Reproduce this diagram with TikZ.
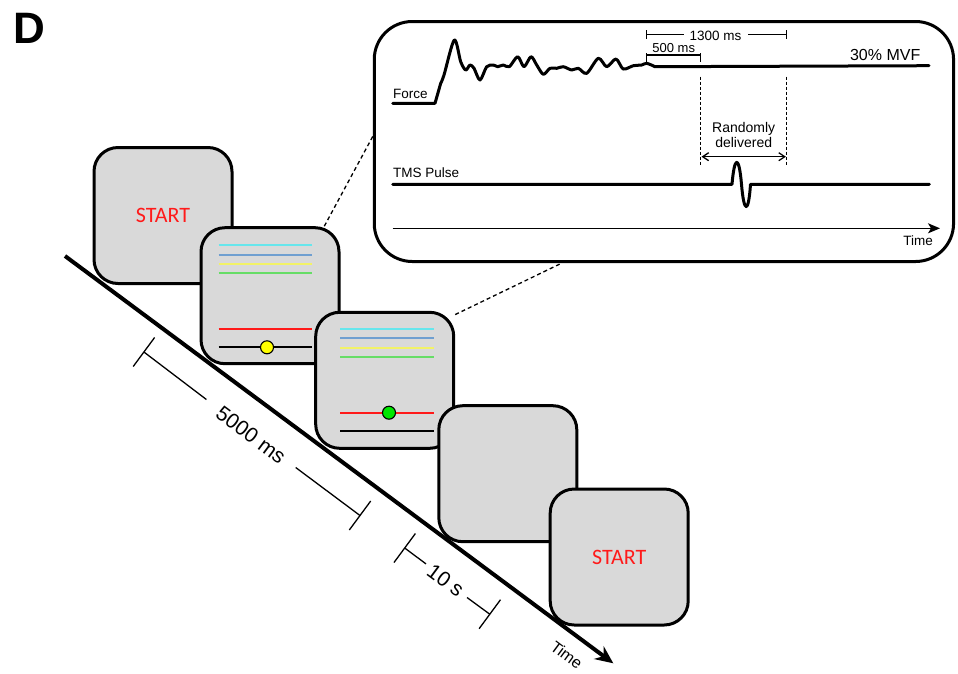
\documentclass[tikz,border=0pt]{standalone}
\usepackage{fontspec}
\setmainfont{Liberation Sans}
\newfontfamily\startfont{Carlito}
\usetikzlibrary{arrows.meta,calc}
\definecolor{boxgray}{HTML}{D9D9D9}
\definecolor{lcyan}{HTML}{66E6EC}
\definecolor{lblue}{HTML}{6F9FD0}
\definecolor{lyellow}{HTML}{F2F266}
\definecolor{lgreen}{HTML}{66DD66}
\definecolor{lred}{HTML}{FF1A1A}
\definecolor{dotyellow}{HTML}{FFFF00}
\definecolor{dotgreen}{HTML}{00E600}
\begin{document}
\begin{tikzpicture}[x=1pt,y=-1pt,
  screen/.style={draw=black, line width=3pt, fill=boxgray, rounded corners=24pt,
    minimum width=138pt, minimum height=136pt, inner sep=0pt},
  starttext/.style={text=lred, font=\startfont\fontsize{22}{25}\selectfont},
  cue/.style={line width=2.3pt},
  dot/.style={circle, draw=black, line width=1.1pt, minimum size=13pt, inner sep=0pt},
  bracket/.style={line width=1.3pt},
  biglabel/.style={rotate=-36.6, inner sep=0pt, font=\fontsize{21}{23}\selectfont},
  conn/.style={line width=1.3pt, dash pattern=on 4pt off 3pt},
  trace/.style={line width=3pt, line join=round, line cap=round},
  thinline/.style={line width=1.3pt},
  vdash/.style={line width=1.2pt, dash pattern=on 3pt off 2pt},
  small/.style={inner sep=0pt, font=\fontsize{13.5}{16}\selectfont}
]
\useasboundingbox (0,0) rectangle (958,673);

% panel letter
\node[anchor=base west, inner sep=0pt, font=\bfseries\fontsize{44}{48}\selectfont] (lblD) at (13.5,43.3) {D};

% screens
\node[screen, starttext] (b1) at (163,215.5) {START};

\node[screen] (b2) at (270,295.7) {};
\draw[cue, lcyan]   (218.7,245.3) -- (312.3,245.3);
\draw[cue, lblue]   (218.7,254.7) -- (312.3,254.7);
\draw[cue, lyellow] (218.7,264.0) -- (312.3,264.0);
\draw[cue, lgreen]  (218.7,273.0) -- (312.3,273.0);
\draw[cue, lred]    (218.7,328.7) -- (312.3,328.7);
\draw[cue, black]   (218.7,347.3) -- (312.3,347.3);
\node[dot, fill=dotyellow] (d2) at (267,347.3) {};

\node[screen] (b3) at (384.7,380.3) {};
\draw[cue, lcyan]   (340,328.7) -- (434,328.7);
\draw[cue, lblue]   (340,338.3) -- (434,338.3);
\draw[cue, lyellow] (340,347.7) -- (434,347.7);
\draw[cue, lgreen]  (340,357.0) -- (434,357.0);
\draw[cue, lred]    (340,412.7) -- (434,412.7);
\draw[cue, black]   (340,431.0) -- (434,431.0);
\node[dot, fill=dotgreen] (d3) at (389,412.7) {};

\node[screen] (b4) at (507.8,473.7) {};
\node[screen, starttext] (b5) at (619.2,557) {START};

% main time line
\coordinate (t0) at (65,256);
\coordinate (t1) at (613.3,663.3);
\draw[line width=4pt, -{Stealth[length=18pt,width=16pt,inset=6pt]}] (t0) -- (t1);
\node[rotate=-36.6, inner sep=0pt, font=\fontsize{16}{18}\selectfont] (tlab) at (566.7,655) {Time};

% 5000 ms bracket
\draw[bracket] (133.2,366.5) -- (154.6,337.5);
\draw[bracket] (143.9,352) -- (206.4,399.5);
\node[biglabel] (l5000) at (251,435) {5000 ms};
\draw[bracket] (295.7,467.5) -- (360,515.5);
\draw[bracket] (349.3,530) -- (370.7,501);

% 10 s bracket
\draw[bracket] (394,562.5) -- (415.4,533.5);
\draw[bracket] (404.7,548) -- (426,563.9);
\node[biglabel] (l10) at (445.7,580.5) {10 s};
\draw[bracket] (467,597.5) -- (489.8,614.2);
\draw[bracket] (479.1,628.7) -- (500.5,599.7);

% inset
\node[draw, line width=3pt, fill=white, rounded corners=38pt, minimum width=579.3pt,
  minimum height=240pt, inner sep=0pt] (inset) at (663.9,141.5) {};
\draw[conn] (b2.52) -- (inset.179.3);
\draw[conn] (b3.43) -- (inset.230.8);

% force trace
\node[small, anchor=base west] (force) at (393,98) {Force};
\draw[trace] (392.7,103.3) -- (435,103.3) -- plot[smooth, tension=0.5] coordinates {
  (440.7,83.3) (444,75) (454.3,40) (460.7,61.7) (465.7,70) (470,65) (474,68.3)
  (480,80) (486.7,66.7) (493.3,65) (497.7,66.7) (503.3,65) (509.3,66.7)
  (517.7,56.7) (524,66.7) (531,56.7) (536.7,65) (543.3,74.3) (550,68.3)
  (556.7,68.3) (563.3,66.7) (571.7,70) (578.3,68.3) (586.7,73.3) (598.3,58.3)
  (606.7,66.7) (616,59) (623.3,69) (633.3,65.7) (641.7,65) (646.7,63.3) (655,66.7)}
  -- (929,65.7);
\node[anchor=base east, inner sep=0pt, font=\fontsize{16}{18}\selectfont] (mvf) at (920.5,60.7) {30\% MVF};

% 1300 ms bracket
\draw[thinline] (646.7,30) -- (646.7,38.5);
\draw[thinline] (646.7,34.3) -- (684,34.3);
\node[anchor=base, inner sep=0pt, font=\fontsize{13.5}{16}\selectfont] (l1300) at (715.5,40) {1300 ms};
\draw[thinline] (748,34.3) -- (786.7,34.3);
\draw[thinline] (786.7,30) -- (786.7,38.5);

% 500 ms bracket
\draw[thinline] (646.7,53) -- (646.7,61.5);
\draw[thinline] (646.7,55) -- (700.7,55);
\draw[thinline] (700.7,53) -- (700.7,61.5);
\node[anchor=base, inner sep=0pt, font=\fontsize{13}{15}\selectfont] (l500) at (673.7,52) {500 ms};

% random window
\draw[vdash] (700.7,76.7) -- (700.7,165);
\draw[vdash] (786.7,76.7) -- (786.7,165);
\draw[thinline, {Straight Barb[length=6pt,width=8pt]}-{Straight Barb[length=6pt,width=8pt]}] (701.5,156.7) -- (785.9,156.7);
\node[anchor=base, inner sep=0pt, font=\fontsize{14}{16}\selectfont] (rand1) at (743.7,132) {Randomly};
\node[anchor=base, inner sep=0pt, font=\fontsize{14}{16}\selectfont] (rand2) at (743.7,147.7) {delivered};

% TMS trace
\node[small, anchor=base west] (tms) at (393,177.7) {TMS Pulse};
\draw[trace] (392.7,184.3) -- (732,184.3) .. controls (734.5,155) and (739,155) .. (741.5,184.3)
  .. controls (744,214) and (748.5,214) .. (750.5,184.3) -- (929.3,184.3);

% inset time axis
\draw[thinline, -{Stealth[length=12pt,width=10pt,inset=3pt]}] (392.7,228.3) -- (940,228.3);
\node[small, anchor=base east] (itime) at (933,245) {Time};
\end{tikzpicture}
\end{document}
